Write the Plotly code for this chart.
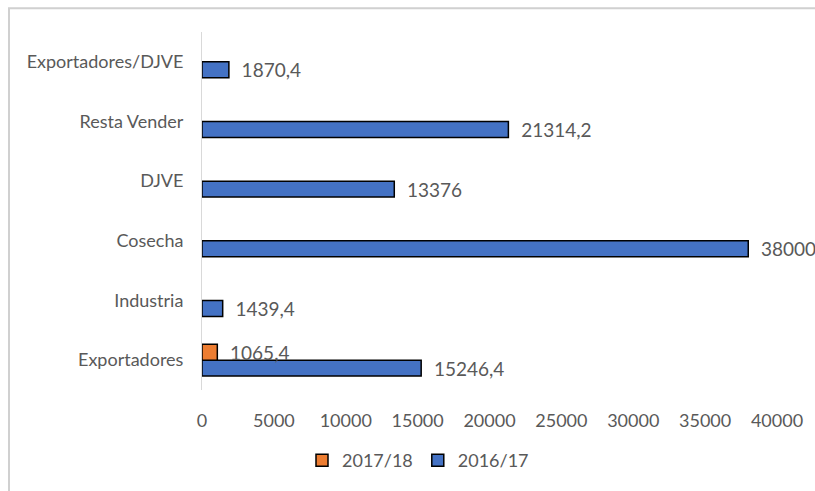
import plotly.graph_objects as go

categories = ["Exportadores", "Industria", "Cosecha", "DJVE", "Resta Vender", "Exportadores/DJVE"]
values_2016_17 = [15246.4, 1439.4, 38000, 13376, 21314.2, 1870.4]
values_2017_18 = [1065.4, None, None, None, None, None]
x_ticks = [0, 5000, 10000, 15000, 20000, 25000, 30000, 35000, 40000]

def fmt(v):
    if v is None:
        return ""
    s = ("%.1f" % v).rstrip("0").rstrip(".")
    return "\u00a0\u00a0" + s.replace(".", ",")

FONT = "Lato, Open Sans, sans-serif"
GREY = "#595959"

fig = go.Figure()
fig.add_trace(go.Bar(
    y=categories, x=values_2016_17, orientation="h", name="2016/17",
    marker=dict(color="#4472C4", line=dict(color="black", width=1.5)),
    text=[fmt(v) for v in values_2016_17], textposition="outside",
    constraintext="none",
    textfont=dict(size=19, color=GREY, family=FONT), cliponaxis=False,
    legendrank=2,
))
fig.add_trace(go.Bar(
    y=categories, x=values_2017_18, orientation="h", name="2017/18",
    marker=dict(color="#ED7D31", line=dict(color="black", width=1.5)),
    text=[fmt(v) for v in values_2017_18], textposition="outside",
    constraintext="none",
    textfont=dict(size=19, color=GREY, family=FONT), cliponaxis=False,
    legendrank=1,
))

L, R, T, B = 202, 38, 32, 99
W, H = 815, 491
pw, ph = W - L - R, H - T - B

fig.update_layout(
    width=W, height=H,
    margin=dict(l=L, r=R, t=T, b=B),
    paper_bgcolor="white", plot_bgcolor="white",
    barmode="group", bargap=0.467, bargroupgap=0,
    font=dict(family=FONT, size=18, color=GREY),
    showlegend=True,
    legend=dict(orientation="h", x=(418 - L) / pw, y=-(463 - (H - B)) / ph,
                xanchor="center", yanchor="middle",
                font=dict(size=18, color=GREY, family=FONT),
                itemwidth=30),
    xaxis=dict(range=[0, 40000], tickvals=x_ticks, ticktext=[str(t) for t in x_ticks],
               showgrid=False, zeroline=False, showline=False,
               ticklabelstandoff=18, tickfont=dict(size=18, color=GREY)),
    yaxis=dict(type="category", showgrid=False, zeroline=False,
               showline=True, linecolor="#d9d9d9", linewidth=1,
               ticklabelstandoff=14, tickfont=dict(size=18, color=GREY)),
    shapes=[
        dict(type="rect", xref="paper", yref="paper", layer="below",
             x0=(9 - L) / pw, x1=(W + 20 - L) / pw,
             y0=-(B + 20) / ph, y1=1 + (T - 8) / ph,
             fillcolor="rgba(0,0,0,0)",
             line=dict(color="#d0d0d0", width=2)),
    ],
)

fig.write_html("out.html", config={"displayModeBar": False},
               post_script="document.body.style.margin='0';document.body.style.overflow='hidden';")
